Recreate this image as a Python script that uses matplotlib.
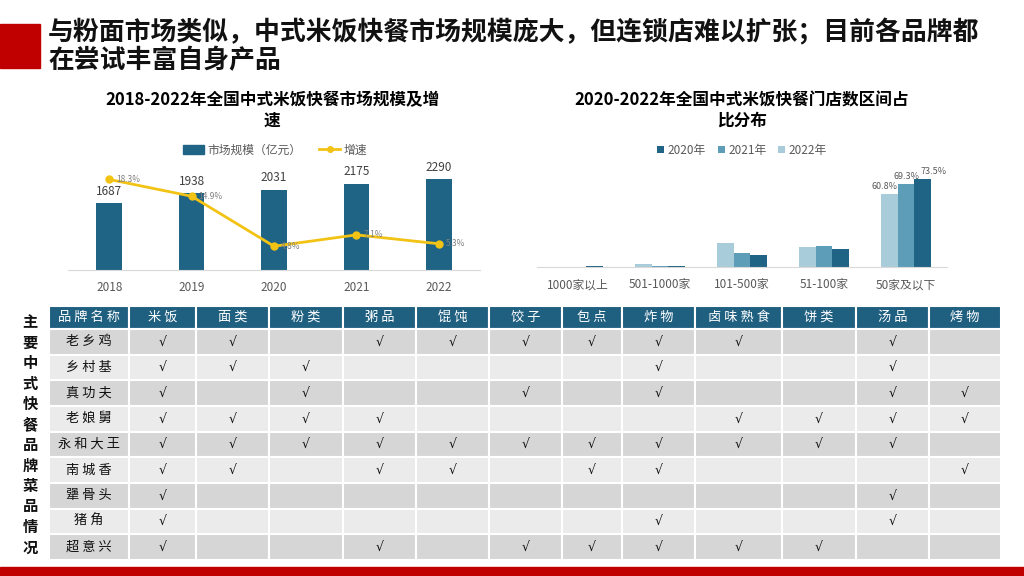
import matplotlib
matplotlib.use("Agg")
import matplotlib.pyplot as plt
from matplotlib.patches import Rectangle, Patch
from matplotlib.lines import Line2D

plt.rcParams['font.family'] = ['Noto Sans CJK SC', 'DejaVu Sans']

# ---- data ----
years = ['2018', '2019', '2020', '2021', '2022']
market_size = [1687, 1938, 2031, 2175, 2290]     # 亿元
growth = [18.3, 14.9, 4.8, 7.1, 5.3]             # %

store_bins = ['1000家以上', '501-1000家', '101-500家', '51-100家', '50家及以下']
share_2020 = [0.5, 1.0, 10.0, 15.0, 73.5]
share_2021 = [0.3, 0.8, 11.6, 17.5, 69.3]
share_2022 = [0.2, 2.2, 19.7, 16.4, 60.8]

table_cols = ['品牌名称', '米饭', '面类', '粉类', '粥品', '馄饨', '饺子', '包点',
              '炸物', '卤味熟食', '饼类', '汤品', '烤物']
brands = ['老乡鸡', '乡村基', '真功夫', '老娘舅', '永和大王', '南城香', '犟骨头', '猪角', '超意兴']
menu = [
    [1, 1, 0, 1, 1, 1, 1, 1, 1, 0, 1, 0],
    [1, 1, 1, 0, 0, 0, 0, 1, 0, 0, 1, 0],
    [1, 0, 1, 0, 0, 1, 0, 1, 0, 0, 1, 1],
    [1, 1, 1, 1, 0, 0, 0, 0, 1, 1, 1, 1],
    [1, 1, 1, 1, 1, 1, 1, 1, 1, 1, 1, 0],
    [1, 1, 0, 1, 1, 0, 1, 1, 0, 0, 0, 1],
    [1, 0, 0, 0, 0, 0, 0, 0, 0, 0, 1, 0],
    [1, 0, 0, 0, 0, 0, 0, 1, 0, 0, 1, 0],
    [1, 0, 0, 1, 0, 1, 1, 1, 1, 1, 0, 0],
]
col_widths = [80, 67, 73, 74, 73, 73, 73, 60, 73, 87, 74, 73, 72]

W, H = 1024, 576
fig = plt.figure(figsize=(W / 100, H / 100), dpi=100)
fig.patch.set_facecolor('white')

def px_axes(x0, y0, x1, y1):
    return fig.add_axes([x0 / W, 1 - y1 / H, (x1 - x0) / W, (y1 - y0) / H])

def fx(x):
    return x / W

def fy(y):
    return 1 - y / H

red = '#C00000'
teal = '#1F6485'
gray_txt = '#595959'

# page decorations
fig.patches.append(Rectangle((0, fy(68)), fx(40), (68 - 24) / H, transform=fig.transFigure,
                             color=red, zorder=0))
fig.patches.append(Rectangle((0, 0), 1, 9 / H, transform=fig.transFigure, color=red, zorder=0))

fig.text(fx(48), fy(33), '与粉面市场类似，中式米饭快餐市场规模庞大，但连锁店难以扩张；目前各品牌都',
         fontsize=18.6, fontweight='bold', va='center', ha='left', color='#111111')
fig.text(fx(48), fy(61), '在尝试丰富自身产品',
         fontsize=18.6, fontweight='bold', va='center', ha='left', color='#111111')

# ---- left chart: market size + growth ----
fig.text(fx(272), fy(100), '2018-2022年全国中式米饭快餐市场规模及增', fontsize=12,
         fontweight='bold', ha='center', va='center')
fig.text(fx(272), fy(121), '速', fontsize=12, fontweight='bold', ha='center', va='center')

ax1 = px_axes(68, 171, 480, 270)
x = range(len(years))
ax1.bar(x, market_size, width=0.31, color=teal, zorder=2)
for i, v in enumerate(market_size):
    ax1.annotate(str(v), (i, v), xytext=(0, 4), textcoords='offset points',
                 ha='center', va='bottom', fontsize=8.5, color='#404040')
ax1.set_ylim(0, 2500)
ax1.set_xlim(-0.5, 4.5)
ax1.set_xticks(list(x))
ax1.set_xticklabels(years, fontsize=8.5, color=gray_txt)
ax1.tick_params(axis='x', length=0, pad=8)
ax1.set_yticks([])
for s in ['top', 'left', 'right']:
    ax1.spines[s].set_visible(False)
ax1.spines['bottom'].set_color('#D9D9D9')
ax1.patch.set_alpha(0)

ax2 = ax1.twinx()
ax2.plot(list(x), growth, color='#F2C314', lw=2, marker='o', ms=5, zorder=3)
for i, g in enumerate(growth):
    ax2.annotate(f'{g}%', (i, g), xytext=(5, 0), textcoords='offset points',
                 ha='left', va='center', fontsize=6, color='#7F7F7F')
ax2.set_ylim(0, 20)
ax2.set_yticks([])
for s in ax2.spines.values():
    s.set_visible(False)

h1 = [Patch(color=teal), Line2D([0], [0], color='#F2C314', lw=2, marker='o', ms=4)]
fig.legend(h1, ['市场规模（亿元）', '增速'], loc='center', bbox_to_anchor=(fx(275), fy(150)),
           ncol=2, frameon=False, fontsize=8.5, labelcolor=gray_txt, handlelength=1.8,
           columnspacing=1.5, handletextpad=0.3)

# ---- right chart: store count distribution ----
fig.text(fx(742), fy(100), '2020-2022年全国中式米饭快餐门店数区间占', fontsize=12,
         fontweight='bold', ha='center', va='center')
fig.text(fx(742), fy(121), '比分布', fontsize=12, fontweight='bold', ha='center', va='center')

ax3 = px_axes(537, 171, 947, 267)
bw = 0.207
xb = range(len(store_bins))
c2020, c2021, c2022 = '#1F6485', '#5E9DB8', '#A9CCDA'
b22 = ax3.bar([i - bw for i in xb], share_2022, width=bw, color=c2022, label='2022年')
b21 = ax3.bar(list(xb), share_2021, width=bw, color=c2021, label='2021年')
b20 = ax3.bar([i + bw for i in xb], share_2020, width=bw, color=c2020, label='2020年')
last = len(store_bins) - 1
ax3.annotate(f'{share_2022[last]}%', (last - bw, share_2022[last]), xytext=(-3, 2),
             textcoords='offset points', ha='center', va='bottom', fontsize=6.5, color=gray_txt)
ax3.annotate(f'{share_2021[last]}%', (last, share_2021[last]), xytext=(0, 2),
             textcoords='offset points', ha='center', va='bottom', fontsize=6.5, color=gray_txt)
ax3.annotate(f'{share_2020[last]}%', (last + bw, share_2020[last]), xytext=(8, 2),
             textcoords='offset points', ha='center', va='bottom', fontsize=6.5, color=gray_txt)
ax3.set_ylim(0, 80)
ax3.set_xlim(-0.5, 4.5)
ax3.set_xticks(list(xb))
ax3.set_xticklabels(store_bins, fontsize=8.5, color=gray_txt)
ax3.tick_params(axis='x', length=0, pad=8)
ax3.set_yticks([])
for s in ['top', 'left', 'right']:
    ax3.spines[s].set_visible(False)
ax3.spines['bottom'].set_color('#D9D9D9')
ax3.patch.set_alpha(0)

fig.legend([b20, b21, b22], ['2020年', '2021年', '2022年'], loc='center',
           bbox_to_anchor=(fx(742), fy(150)), ncol=3, frameon=False, fontsize=8.5,
           labelcolor=gray_txt, handlelength=0.6, handleheight=0.6, columnspacing=1.0,
           handletextpad=0.3)

# ---- table ----
side = '主要中式快餐品牌菜品情况'
for i, ch in enumerate(side):
    fig.text(fx(30), fy(322 + i * 20.5), ch, fontsize=11, fontweight='bold',
             ha='center', va='center', color='#111111')

axt = px_axes(49, 306, 1001, 560)
axt.axis('off')
cell_text = []
for b, row in zip(brands, menu):
    cell_text.append([' '.join(b)] + ['√' if v else '' for v in row])
total_w = sum(col_widths)
tbl = axt.table(cellText=cell_text, colLabels=[' '.join(c) for c in table_cols],
                colWidths=[w / total_w for w in col_widths],
                cellLoc='center', bbox=[0, 0, 1, 1])
tbl.auto_set_font_size(False)
for (r, c), cell in tbl.get_celld().items():
    cell.set_edgecolor('white')
    cell.set_linewidth(1.5)
    t = cell.get_text()
    if r == 0:
        cell.set_facecolor('#1F5F80')
        t.set_color('white')
        t.set_fontsize(9.5)
        cell.set_height(23)
    else:
        cell.set_facecolor('#D6D6D6' if r % 2 == 1 else '#EBEBEB')
        t.set_color('#111111')
        if c == 0:
            t.set_fontsize(9.5)
        else:
            t.set_fontsize(9)
            t.set_fontfamily(['DejaVu Sans'])
        cell.set_height(25.7)

fig.savefig('out.png', dpi=100)
